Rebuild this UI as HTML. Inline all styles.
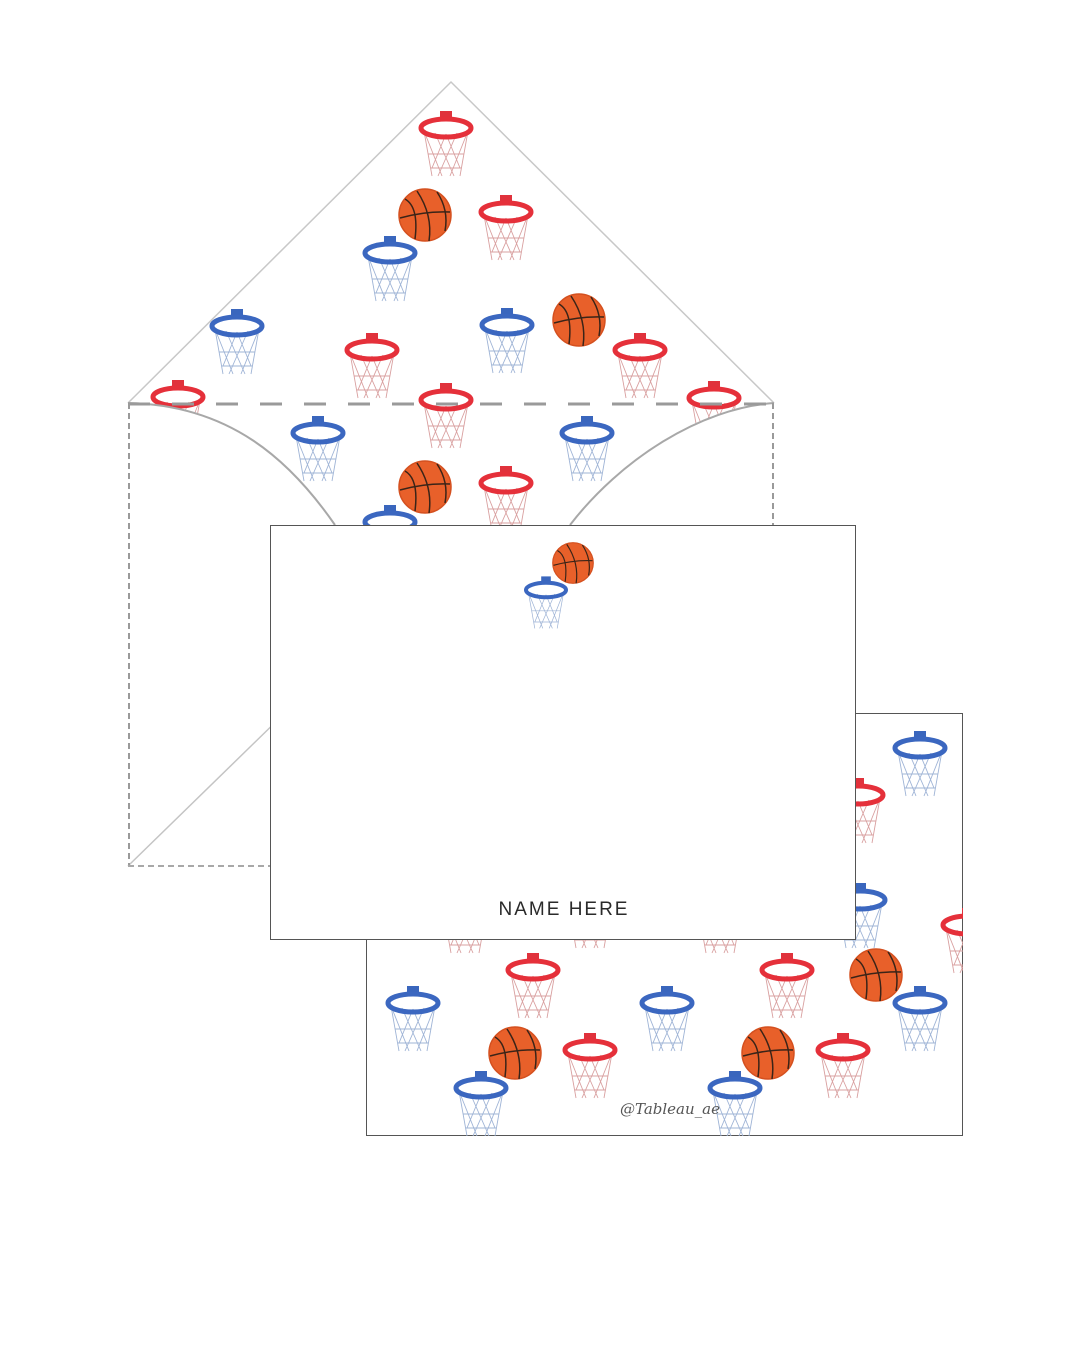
<!DOCTYPE html>
<html><head><meta charset="utf-8"><style>
html,body{margin:0;padding:0;background:#fff;}
svg{display:block}
</style></head><body>
<svg width="1080" height="1350" viewBox="0 0 1080 1350" xmlns="http://www.w3.org/2000/svg">
<defs>
<g id="netR" fill="none" stroke="#d9a0a0" stroke-width="0.9">
  <path d="M-22,3 L-14,48 M22,3 L14,48 M-22,3 L-4,48 M-11,5 L8,48 M0,6 L14,40 M11,5 L-8,48 M22,3 L4,48 M0,6 L-14,40 M-18,26 L18,26 M-15,40 L15,40"/>
</g>
<g id="netB" fill="none" stroke="#9fb4d6" stroke-width="0.9">
  <path d="M-22,3 L-14,48 M22,3 L14,48 M-22,3 L-4,48 M-11,5 L8,48 M0,6 L14,40 M11,5 L-8,48 M22,3 L4,48 M0,6 L-14,40 M-18,26 L18,26 M-15,40 L15,40"/>
</g>
<g id="hr">
  <use href="#netR"/>
  <rect x="-6" y="-17" width="12" height="9" fill="#e0323c"/>
  <ellipse cx="0" cy="0" rx="25" ry="9" fill="none" stroke="#e5303a" stroke-width="5"/>
</g>
<g id="hb">
  <use href="#netB"/>
  <rect x="-6" y="-17" width="12" height="9" fill="#3a66bd"/>
  <ellipse cx="0" cy="0" rx="25" ry="9" fill="none" stroke="#3b67c0" stroke-width="5"/>
</g>
<g id="ball">
  <circle r="26" fill="#e8602a"/>
  <circle r="26" fill="none" stroke="#d4501f" stroke-width="1.5"/>
  <g fill="none" stroke="#3a2418" stroke-width="1.5">
    <path d="M-25,3 Q0,-4 25,-3"/>
    <path d="M-8,-24 Q8,0 4,26"/>
    <path d="M-20,-16 Q-6,-8 -10,24"/>
    <path d="M12,-23 Q24,-5 20,16"/>
  </g>
</g>
<clipPath id="envClip">
  <path d="M451,82 L128,403 L128,866 L774,866 L774,403 Z"/>
</clipPath>
<clipPath id="backClip">
  <rect x="366" y="713" width="597" height="423"/>
</clipPath>
</defs>

<!-- Envelope liner pattern -->
<g clip-path="url(#envClip)">
  <use href="#hr" x="446" y="128"/>
  <use href="#ball" x="425" y="215"/>
  <use href="#hr" x="506" y="212"/>
  <use href="#hb" x="390" y="253"/>
  <use href="#hb" x="237" y="326"/>
  <use href="#hb" x="507" y="325"/>
  <use href="#ball" x="579" y="320"/>
  <use href="#hr" x="372" y="350"/>
  <use href="#hr" x="640" y="350"/>
  <use href="#hr" x="178" y="397"/>
  <use href="#hr" x="446" y="400"/>
  <use href="#hr" x="714" y="398"/>
  <use href="#hb" x="318" y="433"/>
  <use href="#hb" x="587" y="433"/>
  <use href="#ball" x="425" y="487"/>
  <use href="#hr" x="506" y="483"/>
  <use href="#hb" x="390" y="522"/>
</g>
<!-- pocket (white) -->
<path d="M128,403 C230,405 290,460 335,525 L380,600 L520,600 L570,525 C620,460 700,408 774,403 L774,866 L128,866 Z" fill="#fff"/>
<!-- flap edges -->
<path d="M128,403 L451,82 L774,403" fill="none" stroke="#c8c8c8" stroke-width="1.5"/>
<path d="M128,403 C230,405 290,460 335,525" fill="none" stroke="#a8a8a8" stroke-width="2"/>
<path d="M774,403 C700,408 620,460 570,525" fill="none" stroke="#a8a8a8" stroke-width="2"/>
<path d="M128,866 L290,708" fill="none" stroke="#c4c4c4" stroke-width="1.5"/>
<!-- dashed edges -->
<line x1="128" y1="404" x2="774" y2="404" stroke="#9a9a9a" stroke-width="3" stroke-dasharray="22,22"/>
<line x1="129" y1="403" x2="129" y2="866" stroke="#9a9a9a" stroke-width="2" stroke-dasharray="6,4"/>
<line x1="773" y1="403" x2="773" y2="866" stroke="#9a9a9a" stroke-width="2" stroke-dasharray="6,4"/>
<line x1="128" y1="866" x2="774" y2="866" stroke="#a8a8a8" stroke-width="2" stroke-dasharray="6,4"/>

<!-- Back card -->
<rect x="366.5" y="713.5" width="596" height="422" fill="#fff" stroke="#555" stroke-width="1"/>
<g clip-path="url(#backClip)">
  <use href="#hb" x="920" y="748"/>
  <use href="#hr" x="858" y="795"/>
  <use href="#hb" x="860" y="900"/>
  <use href="#hr" x="968" y="925"/>
  <use href="#hr" x="465" y="905"/>
  <use href="#hr" x="590" y="900"/>
  <use href="#hr" x="720" y="905"/>
  <use href="#hr" x="533" y="970"/>
  <use href="#hr" x="787" y="970"/>
  <use href="#ball" x="876" y="975"/>
  <use href="#hb" x="413" y="1003"/>
  <use href="#hb" x="667" y="1003"/>
  <use href="#hb" x="920" y="1003"/>
  <use href="#ball" x="515" y="1053"/>
  <use href="#hr" x="590" y="1050"/>
  <use href="#ball" x="768" y="1053"/>
  <use href="#hr" x="843" y="1050"/>
  <use href="#hb" x="481" y="1088"/>
  <use href="#hb" x="735" y="1088"/>
</g>
<text x="620" y="1114" font-family="'DejaVu Serif', 'Liberation Serif', serif" font-style="italic" font-size="15" fill="#555">@Tableau_ae</text>

<!-- Front card -->
<rect x="270.5" y="525.5" width="585" height="414" fill="#fff" stroke="#555" stroke-width="1"/>
<g transform="translate(573,563) scale(0.78)"><use href="#ball"/></g>
<g transform="translate(546,590) scale(0.8)"><use href="#hb"/></g>
<text x="564" y="915" text-anchor="middle" font-family="'Liberation Sans', sans-serif" font-size="19" letter-spacing="2" fill="#2a2a2a">NAME HERE</text>
</svg>
</body></html>
